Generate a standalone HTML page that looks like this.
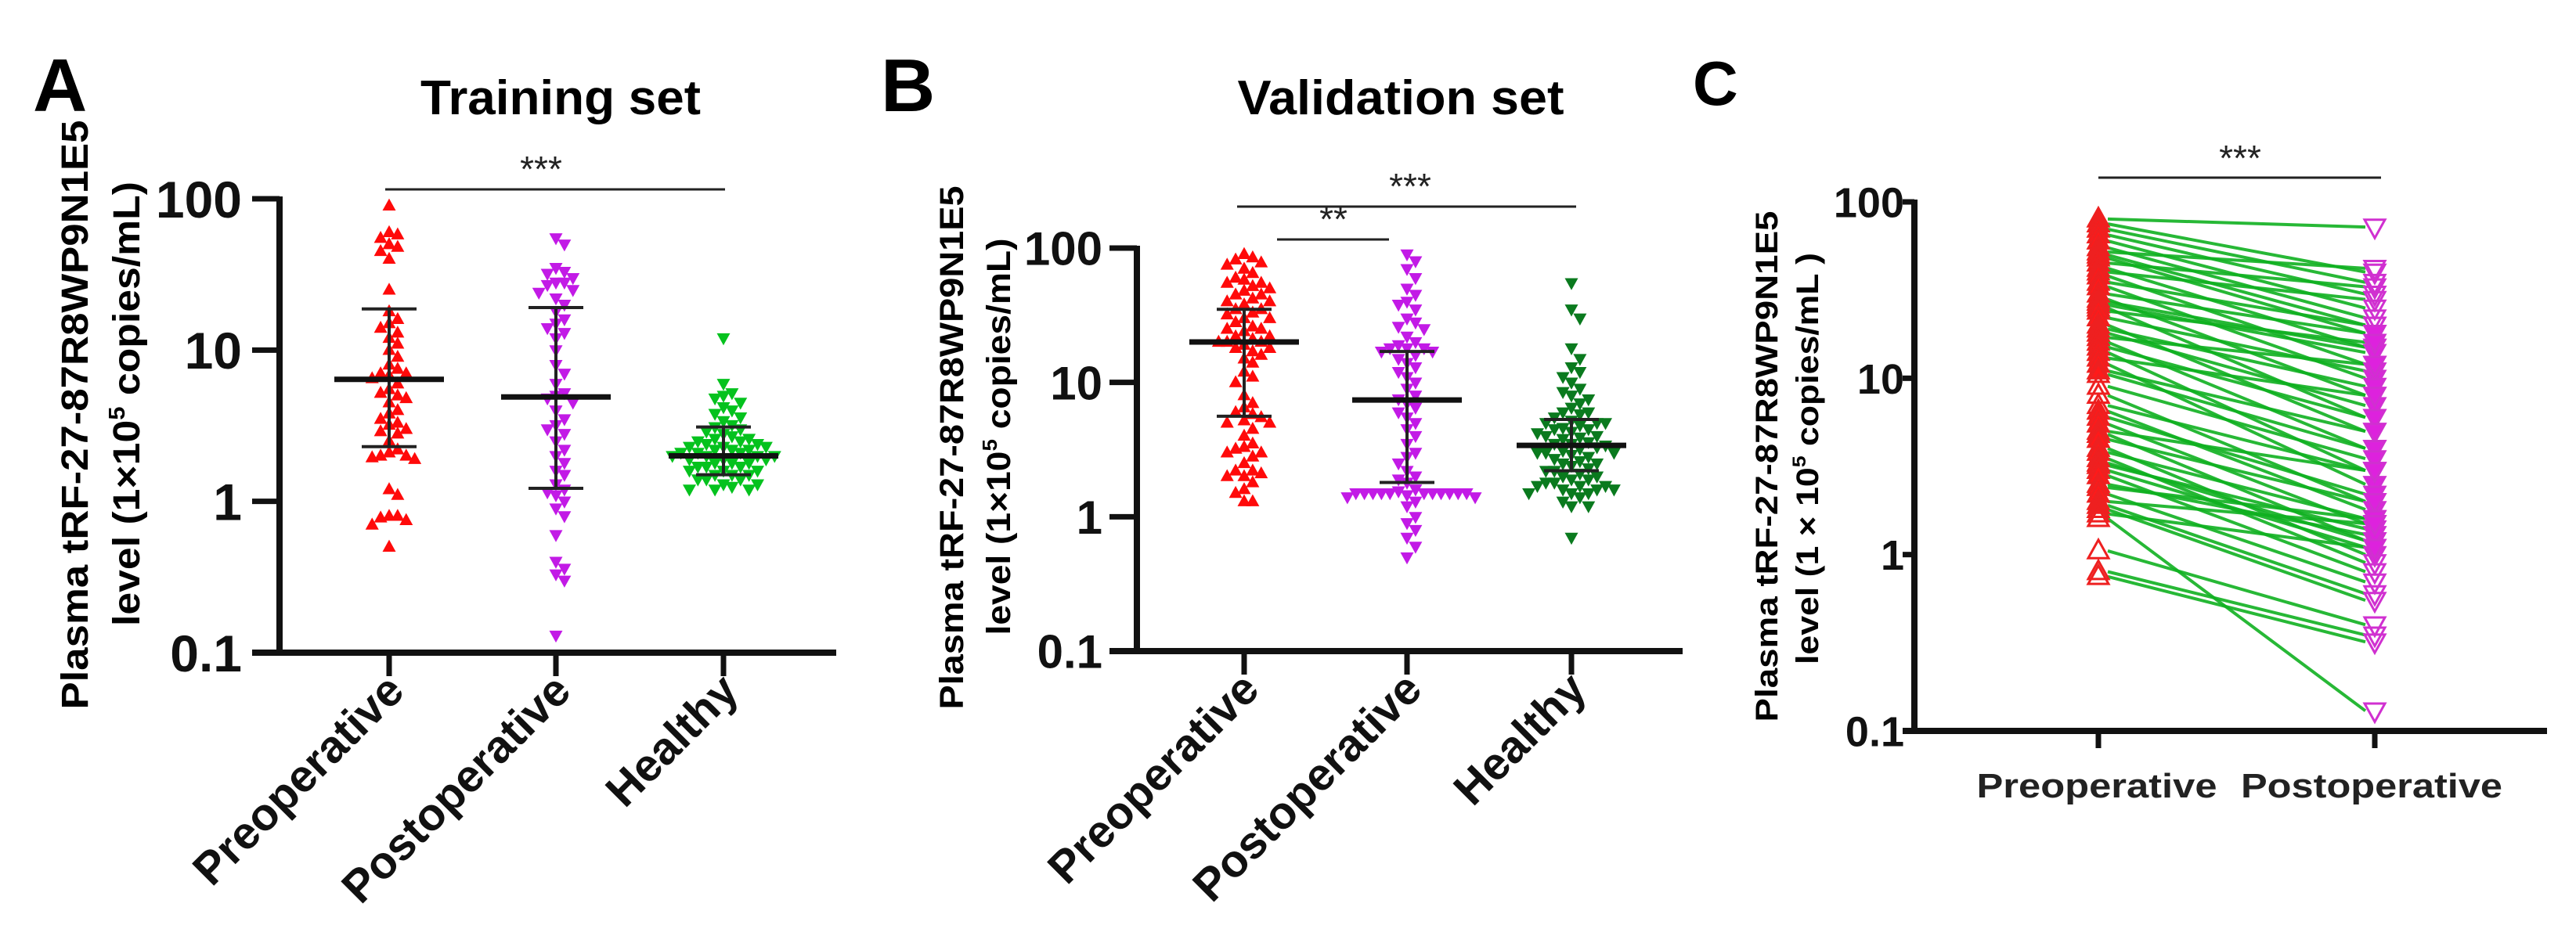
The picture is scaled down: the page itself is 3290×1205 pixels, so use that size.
<!DOCTYPE html>
<html><head><meta charset="utf-8"><style>
html,body{margin:0;padding:0;background:#fff;}
svg{display:block;font-family:"Liberation Sans",Arial,sans-serif;font-weight:bold;}
</style></head><body>
<svg id="fig" width="3290" height="1205" viewBox="0 0 3290 1205" xmlns="http://www.w3.org/2000/svg">
<rect width="3290" height="1205" fill="#fff"/>
<g id="panelA"></g>
<g id="panelB"></g>
<g id="panelC"></g>
</svg>
<script>
const yTicks = [0.1, 1, 10, 100];
const yTickLabels = ["0.1", "1", "10", "100"];
const groupNames = ["Preoperative", "Postoperative", "Healthy"];

const aPre = [90,60,58,55,50,48,45,40,25,18,16,15,14,13,12,11,10,9,8,7.5,7,7,6.8,6.5,6,5.5,5.2,5,4.8,4.5,4,3.8,3.5,3.3,3.2,3,2.9,2.8,2.5,2.2,2.1,2,2,1.95,1.9,1.2,1.1,0.8,0.8,0.78,0.75,0.7,0.5];
const aPost = [55,50,35,33,32,30,28,28,27,25,24,22,20,18,16,15,14,13,12,10,8,7,6,5.2,5,4.8,4.5,4,3.5,3.2,3,2.8,2.5,2.2,2,1.8,1.6,1.5,1.3,1.2,1.15,1.1,1,0.9,0.8,0.6,0.4,0.36,0.33,0.3,0.13];
const aHealthy = [12,6,5.2,5,4.8,4.5,4.2,4,3.8,3.6,3.4,3.2,3.1,3,2.9,2.8,2.7,2.6,2.6,2.5,2.5,2.4,2.4,2.3,2.3,2.3,2.2,2.2,2.2,2.1,2.1,2.1,2,2,2,2,1.9,1.9,1.9,1.8,1.8,1.8,1.7,1.7,1.7,1.6,1.6,1.6,1.5,1.5,1.5,1.4,1.4,1.4,1.3,1.3,1.2,1.2,1.2,1.25];
const aMean = [6.4, 4.9, 2.0];
const aSdHi = [18.7, 19.1, 3.1];
const aSdLo = [2.3, 1.22, 1.5];

const bPre = [90,85,82,78,75,70,65,60,58,55,55,52,50,48,45,45,42,40,40,38,35,35,33,32,30,30,28,26,25,25,24,22,22,21,20,20,20,19,18,18,17,16,15,14,12,11,10,8,7,6.5,6,5.8,5.5,5.2,5,5,4.5,4,3.5,3.3,3.2,3,3,2.8,2.5,2.2,2.2,2.1,2,2,1.8,1.6,1.5,1.3,1.3];
const bPost = [90,80,70,60,50,45,40,38,35,30,28,26,25,22,20,19,18,18,18,17,17,16,15,14,13,12,11,10,9,8,7.5,7,6.5,6,5.5,5,4.5,4,3.5,3,2.8,2.5,2.2,2,1.9,1.8,1.6,1.55,1.5,1.5,1.5,1.5,1.5,1.5,1.5,1.5,1.5,1.5,1.5,1.45,1.4,1.4,1.3,1.2,1,0.9,0.8,0.7,0.6,0.5];
const bHealthy = [55,35,30,18,15,13,12,11,10,9,8.5,8,7.5,7,6.5,6,6,5.8,5.5,5.2,5,5,5,4.8,4.6,4.5,4.5,4.3,4.2,4,4,3.9,3.8,3.6,3.5,3.5,3.4,3.3,3.2,3.1,3,3,3,2.9,2.8,2.7,2.6,2.5,2.5,2.4,2.3,2.2,2.2,2.1,2,2,1.9,1.9,1.8,1.8,1.7,1.7,1.7,1.6,1.6,1.6,1.5,1.5,1.5,1.4,1.3,1.2,1.2,0.7];
const bMean = [20, 7.4, 3.4];
const bSdHi = [35, 17, 5.3];
const bSdLo = [5.6, 1.8, 2.2];

const cPre = [80,75,70,65,60,55,52,50,48,45,42,40,38,35,33,30,28,27,26,25,24,22,20,19,18,17,16,15,14,13,12,11,10.5,9,8,7,6.5,6,5.5,5,4.8,4.5,4,3.8,3.5,3.3,3.2,3,2.8,2.5,2.4,2.2,2,1.9,1.8,1.7,1.6,1.05,0.8,0.75];
const cPost = [72,40,35,30,25,22,42,20,18,33,15,28,12,20,10,18,8,15,14,6,16,11,5,9,7,12,4,6,3,8,2.5,5,4,3.5,2,3,1.8,2.2,1.5,3,1.2,2,1,1.6,0.9,1.2,1.4,1.1,0.8,1.3,1.6,0.7,1.5,0.6,0.55,1.1,0.13,0.4,0.35,0.32];

const NS = "http://www.w3.org/2000/svg";
function mk(parent, tag, attrs) {
  const el = document.createElementNS(NS, tag);
  for (const k in attrs) el.setAttribute(k, attrs[k]);
  parent.appendChild(el);
  return el;
}
function logScale(y01, y100) {
  return v => y01 - (Math.log10(v) + 1) / 3 * (y01 - y100);
}
function tri(x, y, w, up) {
  const h = w * 0.9;
  if (up) return `${x},${y - h * 0.6} ${x - w / 2},${y + h * 0.4} ${x + w / 2},${y + h * 0.4}`;
  return `${x},${y + h * 0.6} ${x - w / 2},${y - h * 0.4} ${x + w / 2},${y - h * 0.4}`;
}
function swarm(vals, ys, cx, s) {
  const idx = vals.map((v, i) => i).sort((a, b) => vals[b] - vals[a]);
  const placed = [];
  const out = new Array(vals.length);
  idx.forEach(i => {
    const y = ys(vals[i]);
    for (let k = 0; k < 200; k++) {
      const off = k === 0 ? 0 : (k % 2 ? 1 : -1) * Math.ceil(k / 2) * s * 0.32;
      const x = cx + off;
      if (!placed.some(p => Math.abs(p[0] - x) < s * 0.62 && Math.abs(p[1] - y) < s * 0.8)) {
        placed.push([x, y]); out[i] = [x, y]; break;
      }
    }
  });
  return out;
}
function yTitle(g, x1, x2, cy1, cy2, len1, len2, fs) {
  const t1 = mk(g, "text", {x: 0, y: 0, "font-size": fs, "text-anchor": "middle", transform: `translate(${x1},${cy1}) rotate(-90)`, textLength: len1, lengthAdjust: "spacingAndGlyphs"});
  
  
  t1.textContent = "Plasma tRF-27-87R8WP9N1E5";
  return t1;
}
function yTitle2(g, x, cy, len, fs, sep) {
  const t = mk(g, "text", {x: 0, y: 0, "font-size": fs, "text-anchor": "middle", transform: `translate(${x},${cy}) rotate(-90)`, textLength: len, lengthAdjust: "spacingAndGlyphs"});
  
  
  const a = mk(t, "tspan", {}); a.textContent = "level (1" + sep + "10";
  const b = mk(t, "tspan", {dy: -fs * 0.4, "font-size": fs * 0.6}); b.textContent = "5";
  const c = mk(t, "tspan", {dy: fs * 0.4}); c.textContent = " copies/mL" + (sep === "×" ? ")" : " )");
}
function axes(g, ax, xEnd, y01, y100, ticksX, tickLabelRight, tfs, tickLen, xTickLen) {
  const ys = logScale(y01, y100);
  const yl = mk(g, "line", {x1: ax, y1: y100 - 3, x2: ax, y2: y01 + 4, stroke: "#111", "stroke-width": 8});
   
  const xl = mk(g, "line", {x1: ax - tickLen, y1: y01, x2: xEnd, y2: y01, stroke: "#111", "stroke-width": 8});
   
  yTicks.forEach((v, i) => {
    const y = ys(v);
    const tl = mk(g, "line", {x1: ax - tickLen, y1: y, x2: ax, y2: y, stroke: "#111", "stroke-width": 7});
     
    const t = mk(g, "text", {x: tickLabelRight, y: y + tfs * 0.36, "font-size": tfs, "text-anchor": "end", fill: "#111"});
     
    t.textContent = yTickLabels[i];
  });
  ticksX.forEach(x => {
    const tl = mk(g, "line", {x1: x, y1: y01, x2: x, y2: y01 + xTickLen, stroke: "#111", "stroke-width": 7});
     
  });
  return ys;
}
function sig(g, x1, x2, y, stars, sx, sy, fs) {
  const l = mk(g, "line", {x1: x1, y1: y, x2: x2, y2: y, stroke: "#222", "stroke-width": 3});
   
  const t = mk(g, "text", {x: sx, y: sy, "font-size": fs, "text-anchor": "middle", fill: "#222", "font-weight": "normal"});
   
  t.textContent = stars;
}
function scatterPanel(g, o) {
  const ys = axes(g, o.ax, o.xEnd, o.y01, o.y100, o.ticks, o.tlr, o.tfs, 35, 30);
  o.groups.forEach((vals, gi) => {
    const pts = swarm(vals, ys, o.ticks[gi], o.ms);
    pts.forEach(p => {
      const m = mk(g, "polygon", {points: tri(p[0], p[1], o.ms, gi === 0), fill: o.colors[gi]});
      
      
    });
  });
  o.groups.forEach((vals, gi) => {
    const cx = o.ticks[gi];
    const hi = ys(o.sdHi[gi]), lo = ys(o.sdLo[gi]), mn = ys(o.mean[gi]);
    const v = mk(g, "line", {x1: cx, y1: hi, x2: cx, y2: lo, stroke: "#222", "stroke-width": 4});
     
    [hi, lo].forEach(y => {
      const c = mk(g, "line", {x1: cx - 35, y1: y, x2: cx + 35, y2: y, stroke: "#222", "stroke-width": 4});
       
    });
    const m = mk(g, "line", {x1: cx - 70, y1: mn, x2: cx + 70, y2: mn, stroke: "#111", "stroke-width": 7});
     
  });
  groupNames.forEach((n, gi) => {
    const t = mk(g, "text", {x: 0, y: 0, "font-size": o.xfs, "text-anchor": "end", fill: "#111", transform: `translate(${o.ticks[gi] + 22},${o.y01 + 52}) rotate(-45)`});
     
    t.textContent = n;
  });
}

// Panel A
const gA = document.getElementById("panelA");
(function () {
  const L = mk(gA, "text", {x: 42, y: 142, "font-size": 96}); L.textContent = "A";
   
  const T = mk(gA, "text", {x: 716, y: 146, "font-size": 62, "text-anchor": "middle", textLength: 358, lengthAdjust: "spacingAndGlyphs"}); T.textContent = "Training set";
   
  yTitle(gA, 112, 0, 530, 0, 753, 0, 48);
  yTitle2(gA, 178, 516, 568, 48, "×");
  scatterPanel(gA, {ax: 357, xEnd: 1068, y01: 834, y100: 254, ticks: [497, 710, 924], tlr: 309, tfs: 66,
    groups: [aPre, aPost, aHealthy], mean: aMean, sdHi: aSdHi, sdLo: aSdLo, ms: 17,
    colors: ["#ff0a0a", "#c21ae6", "#05c21e"], xfs: 58});
  sig(gA, 492, 926, 242, "***", 691, 232, 46);
})();

// Panel B
const gB = document.getElementById("panelB");
(function () {
  const L = mk(gB, "text", {x: 1125, y: 142, "font-size": 96}); L.textContent = "B";
   
  const T = mk(gB, "text", {x: 1789, y: 146, "font-size": 62, "text-anchor": "middle", textLength: 417, lengthAdjust: "spacingAndGlyphs"}); T.textContent = "Validation set";
   
  yTitle(gB, 1230, 0, 572, 0, 669, 0, 43);
  yTitle2(gB, 1290, 558, 507, 43, "×");
  scatterPanel(gB, {ax: 1452, xEnd: 2149, y01: 832, y100: 317, ticks: [1589, 1797, 2007], tlr: 1408, tfs: 60,
    groups: [bPre, bPost, bHealthy], mean: bMean, sdHi: bSdHi, sdLo: bSdLo, ms: 17,
    colors: ["#ff0a0a", "#c21ae6", "#0a7a1e"], xfs: 58});
  sig(gB, 1580, 2013, 264, "***", 1801, 254, 46);
  sig(gB, 1631, 1774, 306, "**", 1703, 296, 46);
})();

// Panel C
const gC = document.getElementById("panelC");
(function () {
  const L = mk(gC, "text", {x: 2162, y: 134, "font-size": 80}); L.textContent = "C";
   
  yTitle(gC, 2270, 0, 596, 0, 653, 0, 40);
  yTitle2(gC, 2322, 586, 526, 40, " × ");
  const xPre = 2680, xPost = 3033;
  const ys = axes(gC, 2445, 3253, 934, 258, [xPre, xPost], 2432, 54, 15, 22);
  const lines = mk(gC, "g", {});
   
  cPre.forEach((v, i) => {
    const l = mk(lines, "line", {x1: xPre + 12, y1: ys(v), x2: xPost - 12, y2: ys(cPost[i]), stroke: "#10b020", "stroke-width": 4, "stroke-opacity": 0.9});
     
  });
  cPre.forEach(v => {
    const m = mk(gC, "polygon", {points: tri(xPre, ys(v), 26, true), fill: v >= 11 || (v > 1.8 && v < 7) ? "#ff1a1a" : "none", stroke: "#ee2020", "stroke-width": 3});
     
  });
  cPost.forEach(v => {
    const m = mk(gC, "polygon", {points: tri(xPost, ys(v), 26, false), fill: v > 0.9 && v < 20 ? "#dd22dd" : "none", stroke: "#d030d0", "stroke-width": 3});
     
  });
  const lab = [["Preoperative", 2678, 307], ["Postoperative", 3029, 334]];
  lab.forEach(a => {
    const t = mk(gC, "text", {x: a[1], y: 1019, "font-size": 44, "text-anchor": "middle", fill: "#222", textLength: a[2], lengthAdjust: "spacingAndGlyphs"});
     
    t.textContent = a[0];
  });
  sig(gC, 2680, 3041, 227, "***", 2861, 218, 46);
})();
</script>
</body></html>
